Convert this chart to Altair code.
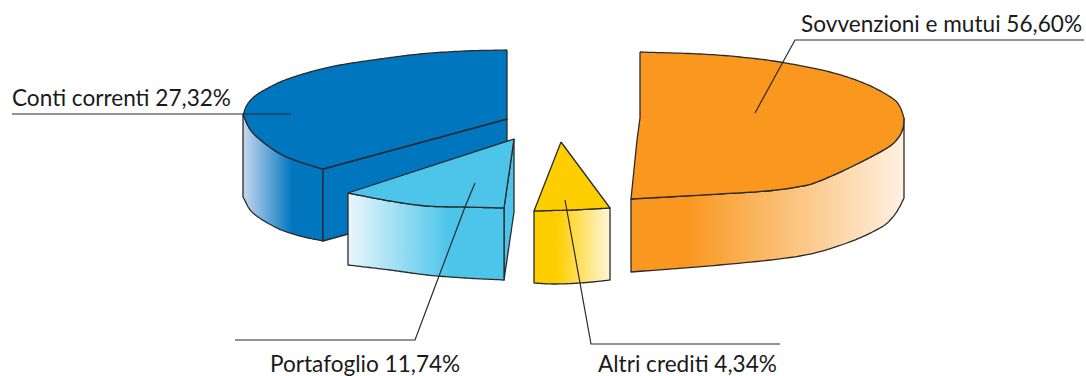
import altair as alt
import numpy as np
import pandas as pd

# Slice shares and labels
categories = ["Sovvenzioni e mutui", "Conti correnti", "Portafoglio", "Altri crediti"]
shares = [56.60, 27.32, 11.74, 4.34]

INK = "#2a2a2a"
ORANGE, BLUE, SKY, YELLOW = "#F9971F", "#0076BF", "#4DC5EA", "#FFCE00"


def smooth(points, n=14):
    """Catmull-Rom resampling of a run of outline points."""
    p = np.array(points, float)
    q = np.vstack([2 * p[0] - p[1], p, 2 * p[-1] - p[-2]])
    out = []
    for i in range(1, len(q) - 2):
        for t in np.linspace(0, 1, n, endpoint=False):
            out.append(0.5 * ((2 * q[i]) + (q[i + 1] - q[i - 1]) * t
                              + (2 * q[i - 1] - 5 * q[i] + 4 * q[i + 1] - q[i + 2]) * t ** 2
                              + (3 * q[i] - q[i - 1] - 3 * q[i + 1] + q[i + 2]) * t ** 3))
    out.append(p[-1])
    return [tuple(v) for v in out]


def gradient(stops):
    return alt.LinearGradient(
        gradient="linear", x1=0, x2=1, y1=0, y2=0,
        stops=[alt.GradientStop(offset=o, color=c) for o, c in stops],
    )


# Outline runs of the exploded slices
blue_back = [(507, 50), (465, 51), (420, 54), (380, 59), (340, 65), (310, 72), (285, 80),
             (268, 88), (255, 96), (247, 105), (243, 115)]
blue_front = [(243, 115), (253, 133), (277, 152), (300, 162), (323, 169)]
blue_base = [(323, 241), (300, 236), (277, 228), (253, 213), (243, 197)]

sky_edge = [(348, 193), (390, 201), (427, 206), (465, 207), (504, 208)]
sky_base = [(504, 280), (465, 278), (427, 275), (390, 270), (348, 265)]

yellow_edge = [(534, 211), (552, 210.5), (572, 210), (592, 209), (610, 208)]
yellow_base = [(610, 280), (592, 282), (572, 283.5), (552, 284), (534, 283)]

orange_back = [(640, 52), (700, 54), (740, 57), (780, 62), (830, 72), (866, 84),
               (892, 98), (900, 107), (904, 118)]
orange_front = [(904, 118), (903, 128), (898, 138), (887, 148), (853, 166), (817, 182),
                (797, 187), (767, 191), (720, 194), (631, 199)]
orange_base = [(631, 272), (720, 265), (800, 256), (847, 243), (880, 228), (892, 218),
               (899, 208), (904, 198)]

shapes = [
    (smooth(blue_front) + smooth(blue_base), gradient([(0, "#C8D8F0"), (0.62, BLUE), (1, BLUE)])),
    ([(323, 169), (507, 119), (507, 190), (323, 241)], BLUE),
    (smooth(blue_back) + smooth(blue_front)[1:] + [(507, 119)], BLUE),
    ([(514, 139), (514, 212), (504, 280), (504, 208)], SKY),
    (smooth(sky_edge) + smooth(sky_base), gradient([(0, "#EAF7FC"), (0.65, SKY), (1, SKY)])),
    ([(348, 193), (514, 139), (504, 208)] + smooth(sky_edge)[::-1], SKY),
    (smooth(yellow_edge) + smooth(yellow_base), gradient([(0, YELLOW), (0.3, YELLOW), (1, "#FFF6D8")])),
    ([(561, 142)] + smooth(yellow_edge)[::-1], YELLOW),
    (smooth(orange_front) + smooth(orange_base), gradient([(0, ORANGE), (0.2, ORANGE), (1, "#FFF1E2")])),
    (smooth(orange_back) + smooth(orange_front)[1:] + [(637, 140), (640, 118)], ORANGE),
]

# Leader lines, one run per slice
leaders = [
    [(1084, 40), (795, 40), (755, 113)],
    [(12, 114), (291, 114)],
    [(235, 340), (415, 340), (430, 300), (465, 207), (475, 183)],
    [(780, 344), (591, 344), (565, 200)],
]

# Label anchor per slice: x, baseline y, alignment
anchors = [(1082, 32, "right"), (12, 106, "left"), (270, 372, "left"), (598, 372, "left")]

X = alt.X("x:Q", scale=alt.Scale(domain=[0, 1086]), axis=None)
Y = alt.Y("y:Q", scale=alt.Scale(domain=[376, 0]), axis=None)


def frame(points):
    return pd.DataFrame({"x": [p[0] for p in points], "y": [p[1] for p in points],
                         "i": range(len(points))})


layers = []
for pts, fill in shapes:
    closed = list(pts) + [pts[0]]
    layers.append(
        alt.Chart(frame(closed))
        .mark_line(fill=fill, stroke=INK, strokeWidth=1.3, strokeJoin="round")
        .encode(x=X, y=Y, order="i:Q")
    )
for run in leaders:
    layers.append(
        alt.Chart(frame(run))
        .mark_line(stroke=INK, strokeWidth=1.2, strokeJoin="miter")
        .encode(x=X, y=Y, order="i:Q")
    )
for name, share, (ax, ay, align) in zip(categories, shares, anchors):
    text = f"{name} {share:.2f}%".replace(".", ",")
    layers.append(
        alt.Chart(pd.DataFrame({"x": [ax], "y": [ay], "t": [text]}))
        .mark_text(font="Lato", fontSize=22.6, color="#1a1a1a", align=align, baseline="alphabetic")
        .encode(x=X, y=Y, text="t:N")
    )

chart = (
    alt.layer(*layers)
    .properties(width=1086, height=376, padding=0, autosize=alt.AutoSizeParams(type="none"))
    .configure_view(strokeWidth=0)
)
chart.save("out.html", embed_options={"renderer": "svg", "actions": False})
